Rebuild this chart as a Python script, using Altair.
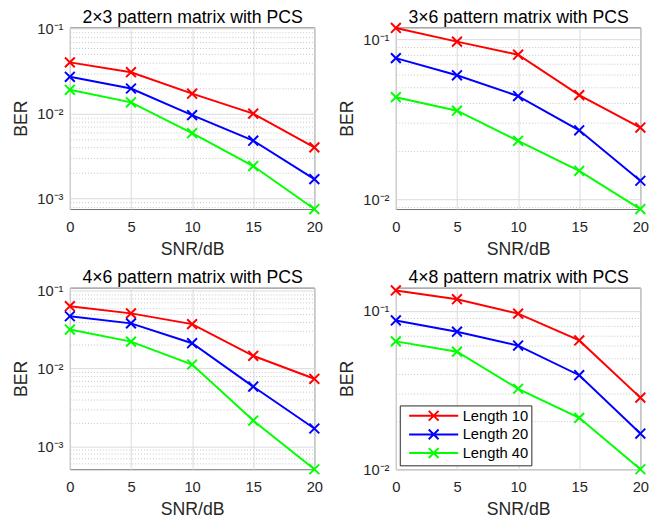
import altair as alt
import pandas as pd

snr_db = [0, 5, 10, 15, 20]
series_names = ["Length 10", "Length 20", "Length 40"]
series_colors = ["#FF0000", "#0000FF", "#00FF00"]

panel_titles = [
    "2×3 pattern matrix with PCS",
    "3×6 pattern matrix with PCS",
    "4×6 pattern matrix with PCS",
    "4×8 pattern matrix with PCS",
]

# panel 1 (2x3)
p1_len10 = [0.0402, 0.0308, 0.0172, 0.0100, 0.0040]
p1_len20 = [0.0272, 0.0198, 0.0096, 0.0048, 0.00169]
p1_len40 = [0.0191, 0.0136, 0.00588, 0.00241, 0.00075]
# panel 2 (3x6)
p2_len10 = [0.1178, 0.0968, 0.0802, 0.0448, 0.0281]
p2_len20 = [0.0763, 0.0596, 0.0442, 0.0270, 0.01306]
p2_len40 = [0.0435, 0.0358, 0.0232, 0.01507, 0.00869]
# panel 3 (4x6)
p3_len10 = [0.0630, 0.0509, 0.0371, 0.01455, 0.00738]
p3_len20 = [0.0468, 0.0379, 0.0211, 0.00586, 0.0017]
p3_len40 = [0.0316, 0.0221, 0.01125, 0.00215, 0.00051]
# panel 4 (4x8)
p4_len10 = [0.1343, 0.1183, 0.0959, 0.0650, 0.0283]
p4_len20 = [0.0869, 0.0738, 0.0603, 0.0392, 0.0168]
p4_len40 = [0.0641, 0.0552, 0.0322, 0.0211, 0.0100]

panel_series = [
    (p1_len10, p1_len20, p1_len40),
    (p2_len10, p2_len20, p2_len40),
    (p3_len10, p3_len20, p3_len40),
    (p4_len10, p4_len20, p4_len40),
]
y_domains = [[0.00075, 0.104], [0.00869, 0.1188], [0.00051, 0.109], [0.0100, 0.140]]

mantissas = [1, 2, 3, 4, 5, 6, 7, 8, 9]
exponents = [-4, -3, -2, -1]
log_grid_values = [m * 10.0 ** e for e in exponents for m in mantissas] + [1.0]

FONT = "Liberation Sans"
X_PATH = "M-1,-1L1,1M-1,1L1,-1"
LEGEND_PATH = "M-5,0L5,0M-1,-1L1,1M-1,1L1,-1"

is_decade = "abs(log(datum.value)/LN10 - round(log(datum.value)/LN10)) < 1e-6"
exp_expr = "round(log(datum.value)/LN10)"
label_expr = (
    f"({is_decade}) ? ('10' + ({exp_expr} == -1 ? '⁻¹' : {exp_expr} == -2 ? '⁻²' : "
    f"{exp_expr} == -3 ? '⁻³' : '⁻⁴')) : ''"
)


def panel(idx, show_legend):
    l10, l20, l40 = panel_series[idx]
    df = pd.DataFrame({
        "snr": snr_db * 3,
        "ber": list(l10) + list(l20) + list(l40),
        "series": [series_names[0]] * 5 + [series_names[1]] * 5 + [series_names[2]] * 5,
    })
    lo, hi = y_domains[idx]
    ticks = [v for v in log_grid_values if lo * 0.9999 <= v <= hi * 1.0001]
    xscale = alt.Scale(domain=[0, 20], nice=False)
    x_bottom = alt.X(
        "snr:Q", scale=xscale,
        axis=alt.Axis(values=snr_db, title="SNR/dB", labelFlush=False, orient="bottom",
                      labelPadding=11, titlePadding=6, gridColor="#dadada"),
    )
    # top axis only carries the panel title (MATLAB-style title just above the box)
    x_top = alt.X(
        "snr:Q", scale=xscale,
        axis=alt.Axis(orient="top", labels=False, ticks=False, grid=False, domain=False,
                      title=panel_titles[idx], titleFontSize=18, titleColor="#000000",
                      titlePadding=1),
    )
    yenc = alt.Y(
        "ber:Q",
        scale=alt.Scale(type="log", domain=[lo, hi], nice=False),
        axis=alt.Axis(
            values=ticks, title="BER", labelExpr=label_expr, labelFlush=False,
            labelOverlap=False, labelPadding=7, titlePadding=6,
            gridDash={"condition": {"test": is_decade, "value": []}, "value": [1, 2]},
            gridColor={"condition": {"test": is_decade, "value": "#dadada"}, "value": "#c4c4c4"},
        ),
    )
    if show_legend:
        legend = alt.Legend(
            title=None, orient="bottom-left", offset=4,
            symbolType=LEGEND_PATH, symbolSize=100, symbolStrokeWidth=2,
            symbolOffset=24, labelOffset=22,
            labelFontSize=15, labelFont=FONT, labelColor="#000000",
            strokeColor="#262626", fillColor="white", padding=3, rowPadding=0,
        )
    else:
        legend = None
    color = alt.Color("series:N",
                      scale=alt.Scale(domain=series_names, range=series_colors),
                      legend=legend)
    lines = alt.Chart(df).mark_line(strokeWidth=2).encode(x=x_bottom, y=yenc, color=color)
    pts = alt.Chart(df).mark_point(
        shape=X_PATH, size=100, filled=False, strokeWidth=2, opacity=1
    ).encode(x=x_top, y=yenc, color=color)
    return alt.layer(lines, pts).resolve_axis(x="independent").properties(
        width=249, height=185,
    )


chart = alt.concat(
    panel(0, False), panel(1, False), panel(2, False), panel(3, True),
    columns=2, spacing={"row": 9, "column": 14},
).resolve_scale(color="independent").resolve_legend(color="independent") \
    .configure_view(stroke="#707070", strokeWidth=1) \
    .configure_axis(
        labelFont=FONT, labelFontSize=15, labelColor="#262626",
        titleFont=FONT, titleFontSize=18, titleFontWeight="normal", titleColor="#262626",
        domain=False, ticks=False,
    ) \
    .properties(padding={"left": 4, "top": -5, "right": 10, "bottom": 0})

chart.save("out.html", embed_options={"renderer": "svg", "actions": False})
